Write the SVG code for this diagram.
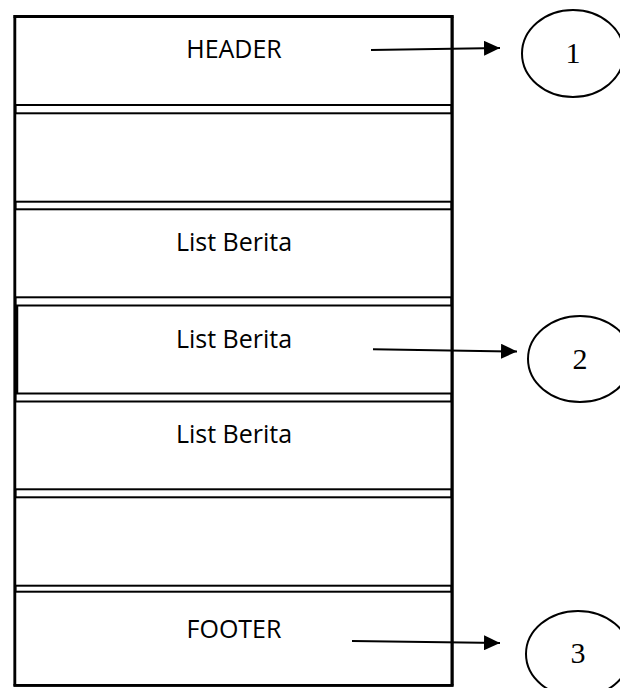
<svg xmlns="http://www.w3.org/2000/svg" width="620" height="688" viewBox="0 0 620 688">
<defs>
<style>
.box{fill:#fff;stroke:#000;stroke-width:2}
.frame{fill:none;stroke:#000;stroke-width:3}
.lbl{font-family:"Open Sans","Noto Sans",sans-serif;font-size:25px;fill:#000;text-anchor:middle}
.num{font-family:"Liberation Serif","Times New Roman",serif;font-size:30px;fill:#000;text-anchor:middle}
.circ{fill:#fff;stroke:#000;stroke-width:2}
.conn{stroke:#000;stroke-width:2;fill:none;marker-end:url(#ah)}
</style>
<marker id="ah" viewBox="0 0 16 15" refX="16" refY="7.5" markerWidth="16" markerHeight="15" markerUnits="userSpaceOnUse" orient="auto">
<path d="M0,0 L16,7.5 L0,15 Z" fill="#000"/>
</marker>
</defs>
<rect x="0" y="0" width="620" height="688" fill="#fff"/>
<g id="page">
<rect class="frame" x="15" y="16.5" width="437" height="668.5"/>
</g>
<g id="header">
<rect class="box" x="15" y="16.5" width="437" height="88.5"/>
<text class="lbl" x="234" y="58">HEADER</text>
</g>
<g id="empty-1">
<rect class="box" x="15" y="113.3" width="437" height="88.4"/>
</g>
<g id="list-1">
<rect class="box" x="15" y="209.3" width="437" height="88"/>
<text class="lbl" x="234" y="251">List Berita</text>
</g>
<g id="list-2">
<rect class="box" x="15" y="305.5" width="437" height="88"/>
<line x1="16.5" y1="305" x2="16.5" y2="394" stroke="#000" stroke-width="3.5"/>
<text class="lbl" x="234" y="348">List Berita</text>
</g>
<g id="list-3">
<rect class="box" x="15" y="401.5" width="437" height="87.8"/>
<text class="lbl" x="234" y="443">List Berita</text>
</g>
<g id="empty-2">
<rect class="box" x="15" y="497.3" width="437" height="88.4"/>
</g>
<g id="footer">
<rect class="box" x="15" y="591.7" width="437" height="93.6"/>
<text class="lbl" x="234" y="638">FOOTER</text>
</g>
<g id="frame-edges">
<line x1="15" y1="16.5" x2="15" y2="685.3" stroke="#000" stroke-width="2.5"/>
<line x1="452" y1="16.5" x2="452" y2="685.3" stroke="#000" stroke-width="3"/>
<line x1="13.5" y1="16.5" x2="453.5" y2="16.5" stroke="#000" stroke-width="3"/>
<line x1="13.5" y1="685.3" x2="453.5" y2="685.3" stroke="#000" stroke-width="2.7"/>
</g>
<g id="circle-1">
<ellipse class="circ" cx="573" cy="53.5" rx="51" ry="43.5"/>
<text class="num" x="573" y="63">1</text>
</g>
<g id="circle-2">
<ellipse class="circ" cx="580" cy="359" rx="52" ry="43"/>
<text class="num" x="580" y="369">2</text>
</g>
<g id="circle-3">
<ellipse class="circ" cx="578" cy="654" rx="52" ry="43"/>
<text class="num" x="578" y="663">3</text>
</g>
<g id="connectors">
<line class="conn" x1="371" y1="50" x2="500" y2="48"/>
<line class="conn" x1="373" y1="349.3" x2="517" y2="351.5"/>
<line class="conn" x1="352" y1="641" x2="500" y2="643"/>
</g>
</svg>
